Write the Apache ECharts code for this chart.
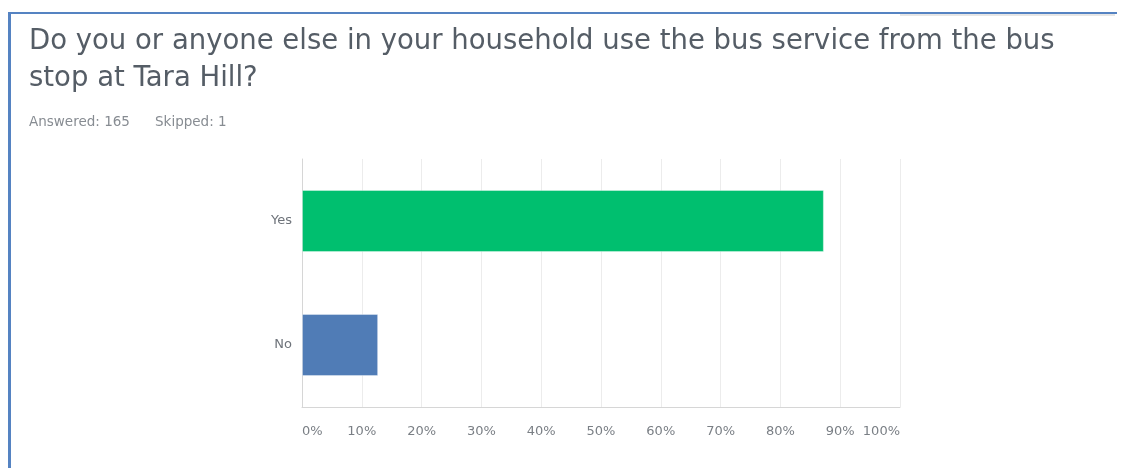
<!DOCTYPE html>
<html>
<head>
<meta charset="utf-8">
<script src="https://cdn.jsdelivr.net/npm/echarts@6/dist/echarts.min.js"></script>
<style>
html,body{margin:0;padding:0;background:#fff;}
#chart{width:1132px;height:468px;}
</style>
</head>
<body>
<div id="chart"></div>
<script>
const titleText = 'Do you or anyone else in your household use the bus service from the bus\nstop at Tara Hill?';
const answeredText = 'Answered: 165';
const skippedText = 'Skipped: 1';
const categories = ['Yes', 'No'];
const percentValues = [87.27, 12.73];
const barColors = ['#00bf6f', '#507cb6'];
const tickLabels = ['0%', '10%', '20%', '30%', '40%', '50%', '60%', '70%', '80%', '90%', '100%'];

const FONT = 'DejaVu Sans';
const chart = echarts.init(document.getElementById('chart'), null, {renderer: 'canvas'});
chart.setOption({
  backgroundColor: '#ffffff',
  animation: false,
  title: [{
    text: titleText,
    left: 29, top: 23, padding: 0,
    textStyle: {fontFamily: FONT, fontSize: 27.5, fontWeight: 'normal', color: '#555d66', lineHeight: 37}
  }, {
    text: answeredText,
    left: 29, top: 115, padding: 0,
    textStyle: {fontFamily: FONT, fontSize: 13.5, fontWeight: 'normal', color: '#878c92'}
  }, {
    text: skippedText,
    left: 155, top: 115, padding: 0,
    textStyle: {fontFamily: FONT, fontSize: 13.5, fontWeight: 'normal', color: '#878c92'}
  }],
  graphic: [
    {type: 'line', shape: {x1: 9, y1: 13, x2: 1117, y2: 13}, style: {stroke: '#5583c2', lineWidth: 2}},
    {type: 'line', shape: {x1: 9.5, y1: 12, x2: 9.5, y2: 468}, style: {stroke: '#5583c2', lineWidth: 3}},
    {type: 'rect', shape: {x: 900, y: 14, width: 215, height: 2}, style: {fill: '#e6e6e6'}}
  ],
  grid: {left: 302, right: 232, top: 159, bottom: 61, containLabel: false},
  xAxis: {
    type: 'value', min: 0, max: 100, interval: 10,
    axisLine: {show: true, lineStyle: {color: '#d6d6d6', width: 1}},
    axisTick: {show: false},
    splitLine: {show: true, lineStyle: {color: '#ececec', width: 1}},
    axisLabel: {
      margin: 18, color: '#7a7f85', fontFamily: FONT, fontSize: 13,
      alignMinLabel: 'left', alignMaxLabel: 'right',
      formatter: function (v) { return tickLabels[Math.round(v / 10)]; }
    }
  },
  yAxis: {
    type: 'category', data: categories, inverse: true,
    axisLine: {show: true, lineStyle: {color: '#d6d6d6', width: 1}},
    axisTick: {show: false},
    axisLabel: {margin: 10, color: '#6e737a', fontFamily: FONT, fontSize: 13}
  },
  series: [{
    type: 'bar',
    barWidth: '50%',
    data: percentValues.map(function (v, i) {
      return {value: v, itemStyle: {color: barColors[i], borderColor: 'rgba(255,255,255,0.35)', borderWidth: 1}};
    })
  }]
});
</script>
</body>
</html>
